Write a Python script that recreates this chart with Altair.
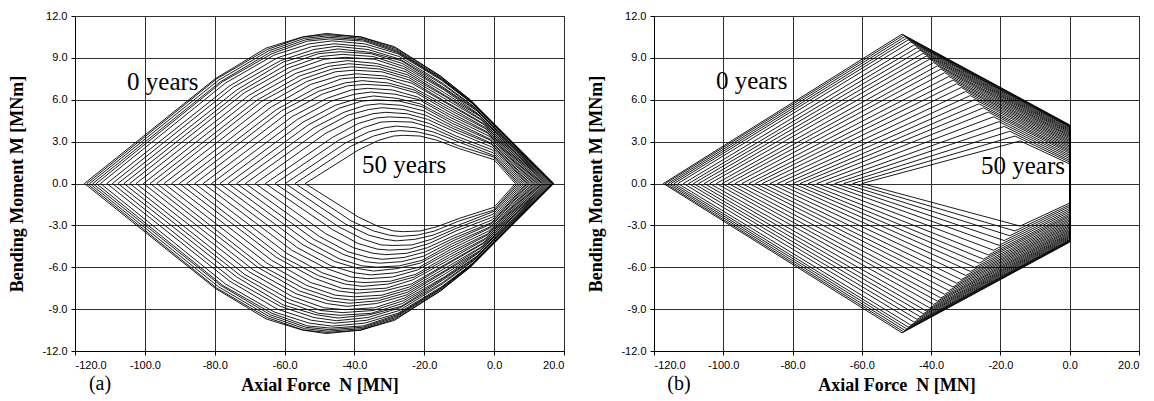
import altair as alt
import pandas as pd

# ---------- panel (a): vertices of the upper half of each curve (0 ... 50 years) ----------
a_left_N = [-117.3, -116.6, -115.8, -114.9, -113.9, -112.7, -110.9, -109.3, -107.7, -106.0, -104.3,
            -102.5, -100.4, -98.5, -96.6, -94.5, -92.3, -90.1, -88.0, -85.7, -83.3, -80.9, -78.5,
            -76.1, -73.7, -71.2, -68.4, -65.5, -62.7, -59.8, -57.0, -54.1]
a_rise_N = [-79.9, -79.4, -78.9, -78.3, -77.7, -76.9, -75.7, -74.7, -73.7, -72.6, -71.5, -70.3, -68.9,
            -67.7, -66.5, -65.1, -63.7, -62.3, -60.9, -59.4, -57.8, -56.3, -54.7, -53.2, -51.6, -50.0,
            -48.2, -46.3, -44.5, -42.6, -40.8, -38.9]
a_rise_M = [7.5, 7.5, 7.4, 7.3, 7.3, 7.2, 7.0, 6.9, 6.7, 6.6, 6.5, 6.3, 6.2, 6.0, 5.9, 5.7, 5.5, 5.3,
            5.2, 5.0, 4.8, 4.6, 4.4, 4.2, 4.0, 3.8, 3.6, 3.3, 3.1, 2.9, 2.7, 2.4]
a_shoulder_N = [-65.3, -65.0, -64.6, -64.1, -63.6, -63.0, -62.1, -61.2, -60.4, -59.5, -58.7, -57.8,
                -56.7, -55.7, -54.7, -53.7, -52.5, -51.4, -50.3, -49.2, -47.9, -46.7, -45.5, -44.3,
                -43.0, -41.8, -40.3, -38.9, -37.4, -35.9, -34.5, -33.0]
a_shoulder_M = [9.7, 9.6, 9.5, 9.4, 9.3, 9.2, 9.0, 8.8, 8.7, 8.5, 8.3, 8.1, 7.9, 7.7, 7.5, 7.3, 7.1,
                6.8, 6.6, 6.4, 6.1, 5.9, 5.6, 5.4, 5.1, 4.9, 4.6, 4.3, 4.0, 3.7, 3.4, 3.1]
a_near_N = [-54.9, -54.6, -54.3, -53.9, -53.5, -53.0, -52.3, -51.6, -51.0, -50.3, -49.6, -48.8, -48.0,
            -47.2, -46.4, -45.5, -44.6, -43.7, -42.8, -41.9, -40.9, -39.9, -38.9, -37.9, -36.9, -35.9,
            -34.7, -33.5, -32.4, -31.2, -30.0, -28.8]
a_near_M = [10.5, 10.5, 10.4, 10.3, 10.2, 10.0, 9.8, 9.6, 9.4, 9.3, 9.1, 8.9, 8.6, 8.4, 8.2, 8.0, 7.7,
            7.5, 7.2, 7.0, 6.7, 6.4, 6.1, 5.9, 5.6, 5.3, 5.0, 4.7, 4.4, 4.0, 3.7, 3.4]
a_peak_N = [-48.0, -47.8, -47.5, -47.2, -46.8, -46.4, -45.8, -45.2, -44.7, -44.1, -43.5, -42.8, -42.1,
            -41.5, -40.8, -40.1, -39.3, -38.5, -37.8, -37.0, -36.2, -35.3, -34.5, -33.7, -32.8, -32.0,
            -31.0, -30.0, -29.0, -28.0, -27.0, -26.0]
a_peak_M = [10.75, 10.67, 10.58, 10.47, 10.36, 10.22, 10.01, 9.83, 9.64, 9.44, 9.25, 9.04, 8.80, 8.58,
            8.36, 8.12, 7.86, 7.61, 7.37, 7.10, 6.82, 6.55, 6.27, 5.99, 5.71, 5.43, 5.10, 4.77, 4.44,
            4.11, 3.79, 3.45]
a_d_N = [-38.2, -38.1, -37.8, -37.6, -37.3, -37.0, -36.5, -36.1, -35.6, -35.2, -34.7, -34.2, -33.7,
         -33.2, -32.7, -32.1, -31.5, -30.9, -30.3, -29.7, -29.1, -28.4, -27.8, -27.1, -26.5, -25.8,
         -25.0, -24.3, -23.5, -22.7, -22.0, -21.2]
a_d_M = [10.5, 10.5, 10.4, 10.3, 10.2, 10.0, 9.8, 9.6, 9.4, 9.3, 9.1, 8.9, 8.6, 8.4, 8.2, 8.0, 7.7,
         7.5, 7.2, 7.0, 6.7, 6.4, 6.1, 5.9, 5.6, 5.3, 5.0, 4.7, 4.4, 4.0, 3.7, 3.4]
a_e_N = [-28.5, -28.3, -28.2, -28.0, -27.8, -27.6, -27.2, -26.9, -26.6, -26.3, -26.0, -25.6, -25.2,
         -24.9, -24.5, -24.1, -23.7, -23.3, -22.9, -22.4, -22.0, -21.5, -21.1, -20.6, -20.1, -19.7,
         -19.1, -18.6, -18.0, -17.5, -17.0, -16.4]
a_e_M = [9.8, 9.7, 9.6, 9.5, 9.4, 9.3, 9.1, 8.9, 8.8, 8.6, 8.4, 8.2, 8.0, 7.8, 7.6, 7.4, 7.2, 6.9,
         6.7, 6.5, 6.2, 6.0, 5.7, 5.5, 5.2, 4.9, 4.6, 4.3, 4.0, 3.7, 3.4, 3.1]
a_f_N = [-15.4, -15.4, -15.3, -15.2, -15.2, -15.1, -14.9, -14.8, -14.6, -14.5, -14.3, -14.2, -14.0,
         -13.8, -13.6, -13.5, -13.3, -13.1, -12.9, -12.7, -12.5, -12.3, -12.1, -11.9, -11.7, -11.4,
         -11.2, -10.9, -10.7, -10.4, -10.2, -10.0]
a_f_M = [7.7, 7.7, 7.6, 7.5, 7.5, 7.4, 7.2, 7.1, 6.9, 6.8, 6.7, 6.5, 6.3, 6.2, 6.0, 5.8, 5.7, 5.5,
         5.3, 5.1, 4.9, 4.7, 4.5, 4.3, 4.1, 3.9, 3.7, 3.4, 3.2, 3.0, 2.7, 2.5]
a_g_N = [-7.0, -6.8, -6.7, -6.5, -6.3, -6.1, -5.7, -5.4, -5.2, -4.9, -4.6, -4.3, -4.0, -3.7, -3.4,
         -3.1, -2.8, -2.5, -2.3, -2.0, -1.8, -1.5, -1.3, -1.1, -0.9, -0.7, -0.5, -0.4, -0.3, -0.1,
         -0.1, 0.0]
a_g_M = [6.0, 6.0, 5.9, 5.8, 5.8, 5.7, 5.5, 5.4, 5.3, 5.2, 5.0, 4.9, 4.8, 4.6, 4.5, 4.3, 4.2, 4.0,
         3.9, 3.7, 3.6, 3.4, 3.2, 3.1, 2.9, 2.8, 2.6, 2.4, 2.2, 2.0, 1.9, 1.7]
a_right_N = [17.1, 17.0, 16.8, 16.7, 16.5, 16.3, 16.0, 15.7, 15.4, 15.1, 14.8, 14.5, 14.2, 13.8, 13.5,
             13.1, 12.8, 12.4, 12.0, 11.6, 11.2, 10.8, 10.3, 9.9, 9.5, 9.1, 8.6, 8.1, 7.6, 7.1, 6.6, 6.1]

# ---------- panel (b): apex, kink and end moment (at N = 0) of each curve ----------
b_left_N = [-117.3, -116.7, -115.9, -115.1, -114.2, -113.1, -111.5, -110.0, -108.6, -107.1, -105.5,
            -103.9, -102.0, -100.3, -98.5, -96.6, -94.6, -92.6, -90.7, -88.7, -86.5, -84.3, -82.1,
            -79.9, -77.8, -75.5, -73.0, -70.3, -67.8, -65.2, -62.6, -60.0]
b_kink_N = [-48.4, -48.0, -47.6, -47.1, -46.6, -45.9, -44.9, -44.1, -43.2, -42.3, -41.4, -40.4, -39.3,
            -38.2, -37.2, -36.1, -34.9, -33.7, -32.6, -31.3, -30.0, -28.7, -27.4, -26.2, -24.9, -23.5,
            -22.0, -20.4, -18.9, -17.3, -15.8, -14.3]
b_kink_M = [10.7, 10.62, 10.52, 10.41, 10.29, 10.14, 9.93, 9.73, 9.54, 9.33, 9.13, 8.91, 8.66, 8.43,
            8.2, 7.94, 7.67, 7.41, 7.15, 6.88, 6.59, 6.3, 6.01, 5.71, 5.42, 5.12, 4.78, 4.43, 4.09,
            3.74, 3.4, 3.05]
b_end_M = [4.2, 4.17, 4.13, 4.09, 4.05, 4.0, 3.92, 3.85, 3.77, 3.7, 3.62, 3.54, 3.45, 3.37, 3.28, 3.19,
           3.09, 3.0, 2.9, 2.8, 2.69, 2.59, 2.48, 2.37, 2.27, 2.16, 2.03, 1.91, 1.78, 1.65, 1.53, 1.4]

x_ticks = [-120, -100, -80, -60, -40, -20, 0, 20]
y_ticks = [-12, -9, -6, -3, 0, 3, 6, 9, 12]

# ---------- build tables ----------
rows = []
for i in range(len(a_left_N)):
    upper = [
        (a_left_N[i], 0.0), (a_rise_N[i], a_rise_M[i]), (a_shoulder_N[i], a_shoulder_M[i]),
        (a_near_N[i], a_near_M[i]), (a_peak_N[i], a_peak_M[i]), (a_d_N[i], a_d_M[i]),
        (a_e_N[i], a_e_M[i]), (a_f_N[i], a_f_M[i]), (a_g_N[i], a_g_M[i]), (a_right_N[i], 0.0),
    ]
    closed = upper + [(n, -m) for n, m in reversed(upper[:-1])]
    for j, (n, m) in enumerate(closed):
        rows.append({"curve": i, "idx": j, "N": n, "M": m})
dfa = pd.DataFrame(rows)

rows = []
for i in range(len(b_left_N)):
    closed = [
        (b_left_N[i], 0.0), (b_kink_N[i], b_kink_M[i]), (0.0, b_end_M[i]),
        (0.0, -b_end_M[i]), (b_kink_N[i], -b_kink_M[i]), (b_left_N[i], 0.0),
    ]
    for j, (n, m) in enumerate(closed):
        rows.append({"curve": i, "idx": j, "N": n, "M": m})
dfb = pd.DataFrame(rows)

lab = "(datum.value < 0 ? '-' : '') + format(abs(datum.value), '.1f')"


def panel(df, tag, ann, w):
    xs = alt.Scale(domain=[-120, 20], nice=False, zero=False)
    ys = alt.Scale(domain=[-12, 12], nice=False, zero=False)
    lines = alt.Chart(df).mark_line(color="black", strokeWidth=0.9, clip=True).encode(
        x=alt.X("N:Q", scale=xs, axis=alt.Axis(values=x_ticks, labelExpr=lab,
                                                title="Axial Force\u00a0 N [MN]")),
        y=alt.Y("M:Q", scale=ys, axis=alt.Axis(values=y_ticks, labelExpr=lab,
                                                title="Bending Moment M [MNm]")),
        detail="curve:N",
        order="idx:Q",
    )
    text = alt.Chart(pd.DataFrame(ann)).mark_text(
        font="Liberation Serif", fontSize=25, align="left", baseline="alphabetic", color="black"
    ).encode(x=alt.X("N:Q", scale=xs), y=alt.Y("M:Q", scale=ys), text="t:N")
    label = alt.Chart(pd.DataFrame({"t": [tag]})).mark_text(
        font="Liberation Serif", fontSize=20, align="center", baseline="middle", color="black"
    ).encode(x=alt.value(25), y=alt.value(368), text="t:N")
    return alt.layer(lines, text, label).properties(width=w, height=335)


pa = panel(dfa, "(a)", {"N": [-105.1, -37.8], "M": [6.7, 0.75], "t": ["0 years", "50 years"]}, 489)
pb = panel(dfb, "(b)", {"N": [-102.1, -25.6], "M": [6.8, 0.7], "t": ["0 years", "50 years"]}, 485)

chart = alt.hconcat(pa, pb, spacing=22).properties(
    padding={"left": 8, "top": 9, "right": 5, "bottom": 5}
).configure_axis(
    labelFont="Liberation Sans", labelFontSize=11, labelColor="black",
    titleFont="Liberation Serif", titleFontSize=18, titleFontWeight="bold", titleColor="black",
    domainColor="black", tickColor="black", tickSize=4, gridColor="#303030", gridWidth=1,
    labelPadding=4,
).configure_axisY(titlePadding=15).configure_axisX(titlePadding=6).configure_view(
    stroke="black", strokeWidth=1
)

chart.save("out.html", embed_options={"renderer": "svg", "actions": False})
